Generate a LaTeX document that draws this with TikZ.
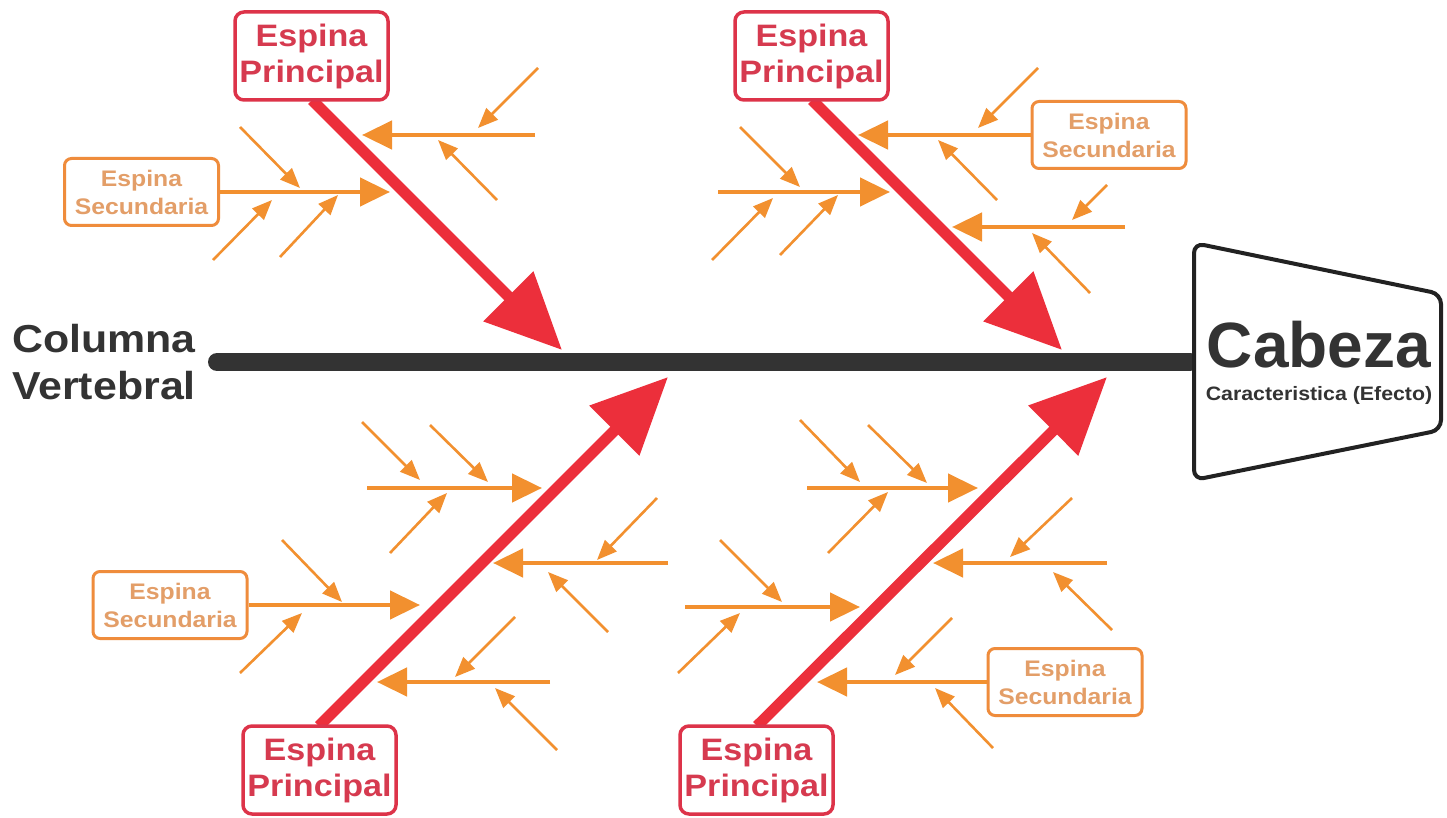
\documentclass[tikz,border=0pt]{standalone}
\usepackage{fontspec}
\setmainfont{Liberation Sans}
\newfontfamily\labfont{Liberation Sans}[FakeStretch=1.1]
\usetikzlibrary{arrows.meta}
\definecolor{spinegray}{HTML}{333333}
\definecolor{headgray}{HTML}{222222}
\definecolor{redarrow}{HTML}{EC2F3B}
\definecolor{redbox}{HTML}{DD3349}
\definecolor{redtext}{HTML}{D63A4F}
\definecolor{orline}{HTML}{F2902F}
\definecolor{orbox}{HTML}{EF8C3C}
\definecolor{ortext}{HTML}{E39E68}
\begin{document}
\begin{tikzpicture}[x=1pt,y=-1pt,
  mainbox/.style={draw=redbox, line width=3.5pt, rounded corners=9pt, minimum width=153pt, minimum height=88pt, inner sep=0pt, align=center, text=redtext, fill=white, font=\labfont\bfseries\fontsize{31}{36}\selectfont},
  secbox/.style={draw=orbox, line width=3pt, rounded corners=7pt, minimum width=154pt, minimum height=67pt, inner sep=0pt, align=center, text=ortext, fill=white, font=\labfont\bfseries\fontsize{22.5}{28}\selectfont},
  mainarrow/.style={draw=redarrow, line width=11pt, -{Triangle[length=76pt,width=68pt]}, color=redarrow},
  brancharrow/.style={draw=orline, line width=4.5pt, -{Triangle[length=30pt,width=28pt]}, color=orline},
  subarrow/.style={draw=orline, line width=2.6pt, -{Triangle[length=20pt,width=16pt]}, color=orline},
  spine/.style={draw=spinegray, line width=18pt, line cap=round},
  headshape/.style={draw=headgray, line width=4pt, fill=white, rounded corners=10pt},
]
\fill[white] (0,0) rectangle (1447,818);
\useasboundingbox (0,0) rectangle (1447,818);

% ---- labels of the backbone ----
\node[anchor=west, inner sep=0pt, align=left, text=spinegray, font=\labfont\bfseries\fontsize{39}{47}\selectfont] (col) at (12,362) {Columna\\Vertebral};

% ---- backbone ----
\coordinate (spL) at (217,362);
\coordinate (headL) at (1190,362);
\draw[spine] (spL) -- (headL);

% ---- head ----
\draw[headshape] (1194,243) -- (1441,294) -- (1441,430) -- (1194,480) -- cycle;
\node[inner sep=0pt, align=center, text=spinegray, font=\bfseries\fontsize{64}{33}\selectfont] (cab) at (1319,363) {Cabeza\\{\labfont\fontsize{19.4}{33}\selectfont Caracteristica (Efecto)}};

% ---- secondary boxes ----
\node[secbox] (sTL) at (141.5,192) {Espina\\Secundaria};
\node[secbox] (sTR) at (1109,135) {Espina\\Secundaria};
\node[secbox] (sBL) at (170,605) {Espina\\Secundaria};
\node[secbox] (sBR) at (1065,682) {Espina\\Secundaria};

% ---- branch tips ----
\coordinate (t1) at (390,192);  \coordinate (t2) at (362,135);  \coordinate (f2) at (535,135);
\coordinate (t3) at (890,192);  \coordinate (f3) at (718,192);
\coordinate (t4) at (858,135);
\coordinate (t5) at (952,227);  \coordinate (f5) at (1125,227);
\coordinate (t6) at (542,488);  \coordinate (f6) at (367,488);
\coordinate (t7) at (493,563);  \coordinate (f7) at (668,563);
\coordinate (t8) at (420,605);
\coordinate (t9) at (377,682);  \coordinate (f9) at (550,682);
\coordinate (t10) at (978,488); \coordinate (f10) at (807,488);
\coordinate (t11) at (933,563); \coordinate (f11) at (1107,563);
\coordinate (t12) at (860,607); \coordinate (f12) at (685,607);
\coordinate (t13) at (817,682);

\draw[brancharrow] (sTL.east) -- (t1);
\draw[brancharrow] (f2) -- (t2);
\draw[brancharrow] (f3) -- (t3);
\draw[brancharrow] (sTR.west) -- (t4);
\draw[brancharrow] (f5) -- (t5);
\draw[brancharrow] (f6) -- (t6);
\draw[brancharrow] (f7) -- (t7);
\draw[brancharrow] (sBL.east) -- (t8);
\draw[brancharrow] (f9) -- (t9);
\draw[brancharrow] (f10) -- (t10);
\draw[brancharrow] (f11) -- (t11);
\draw[brancharrow] (f12) -- (t12);
\draw[brancharrow] (sBR.west) -- (t13);

% ---- small arrows ----
\draw[subarrow] (240,127) coordinate (a1) -- (300,188) coordinate (b1);
\draw[subarrow] (213,260) coordinate (a2) -- (272,200) coordinate (b2);
\draw[subarrow] (280,257) coordinate (a3) -- (338,195) coordinate (b3);
\draw[subarrow] (538,68) coordinate (a4) -- (478,128) coordinate (b4);
\draw[subarrow] (497,200) coordinate (a5) -- (438,140) coordinate (b5);
\draw[subarrow] (740,127) coordinate (a6) -- (800,187) coordinate (b6);
\draw[subarrow] (712,260) coordinate (a7) -- (773,198) coordinate (b7);
\draw[subarrow] (780,255) coordinate (a8) -- (838,195) coordinate (b8);
\draw[subarrow] (1038,68) coordinate (a9) -- (978,128) coordinate (b9);
\draw[subarrow] (997,200) coordinate (a10) -- (938,140) coordinate (b10);
\draw[subarrow] (1107,185) coordinate (a11) -- (1072,220) coordinate (b11);
\draw[subarrow] (1090,293) coordinate (a12) -- (1032,233) coordinate (b12);
\draw[subarrow] (362,422) coordinate (a13) -- (420,480) coordinate (b13);
\draw[subarrow] (430,425) coordinate (a14) -- (488,482) coordinate (b14);
\draw[subarrow] (390,553) coordinate (a15) -- (447,493) coordinate (b15);
\draw[subarrow] (657,498) coordinate (a16) -- (597,560) coordinate (b16);
\draw[subarrow] (608,632) coordinate (a17) -- (548,572) coordinate (b17);
\draw[subarrow] (282,540) coordinate (a18) -- (342,602) coordinate (b18);
\draw[subarrow] (240,673) coordinate (a19) -- (302,613) coordinate (b19);
\draw[subarrow] (515,617) coordinate (a20) -- (455,677) coordinate (b20);
\draw[subarrow] (557,750) coordinate (a21) -- (495,688) coordinate (b21);
\draw[subarrow] (800,420) coordinate (a22) -- (860,482) coordinate (b22);
\draw[subarrow] (868,425) coordinate (a23) -- (927,483) coordinate (b23);
\draw[subarrow] (828,553) coordinate (a24) -- (888,492) coordinate (b24);
\draw[subarrow] (1072,498) coordinate (a25) -- (1010,557) coordinate (b25);
\draw[subarrow] (1112,630) coordinate (a26) -- (1053,572) coordinate (b26);
\draw[subarrow] (720,540) coordinate (a27) -- (782,602) coordinate (b27);
\draw[subarrow] (678,673) coordinate (a28) -- (740,613) coordinate (b28);
\draw[subarrow] (952,618) coordinate (a29) -- (895,675) coordinate (b29);
\draw[subarrow] (993,748) coordinate (a30) -- (935,688) coordinate (b30);

% ---- main spines ----
\coordinate (tTL) at (562,350);
\coordinate (tTR) at (1062,350);
\coordinate (tBL) at (668,377);
\coordinate (tBR) at (1107,377);
\coordinate (oTL) at (312,100);
\coordinate (oTR) at (812,100);
\coordinate (oBL) at (319,726);
\coordinate (oBR) at (757,726);
\draw[mainarrow] (oTL) -- (tTL);
\draw[mainarrow] (oTR) -- (tTR);
\draw[mainarrow] (oBL) -- (tBL);
\draw[mainarrow] (oBR) -- (tBR);

% ---- main boxes ----
\node[mainbox] (pTL) at (311.5,56) {Espina\\Principal};
\node[mainbox] (pTR) at (811.5,56) {Espina\\Principal};
\node[mainbox] (pBL) at (319.5,770) {Espina\\Principal};
\node[mainbox] (pBR) at (756.5,770) {Espina\\Principal};
\end{tikzpicture}
\end{document}
